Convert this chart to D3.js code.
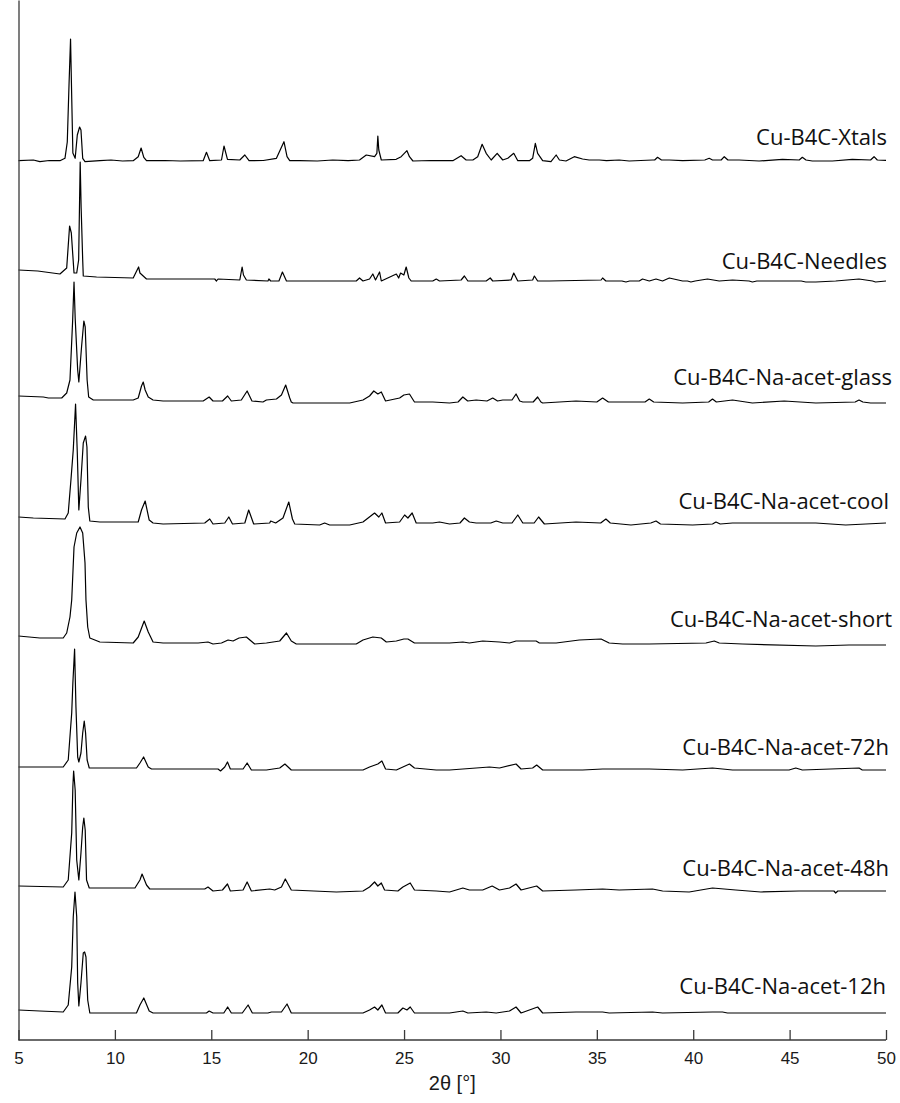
<!DOCTYPE html>
<html>
<head>
<meta charset="utf-8">
<script src="https://cdn.jsdelivr.net/npm/d3@7"></script>
<style>
  html, body { margin: 0; padding: 0; background: #fff; }
  svg { display: block; }
</style>
</head>
<body>
<svg id="chart" width="900" height="1103"></svg>
<script>
// Powder XRD patterns, stacked. Each pattern: [2theta, intensity above its own baseline].
const xtals = [[5,0.3],[5.77,1],[6.11,-0.7],[6.6,0.5],[7.15,0.3],[7.41,2.7],[7.53,19],[7.62,76],[7.7,122],[7.76,64],[7.82,8],[7.94,2.7],[8.05,26],[8.17,34],[8.24,31],[8.33,2.7],[8.45,-0.7],[9.22,0.3],[9.8,1],[10.4,0],[10.95,0.3],[11.21,4.3],[11.36,13],[11.5,3.7],[11.64,0.3],[12.6,0.5],[13.4,0],[14.58,0.3],[14.75,8.7],[14.92,0.3],[15.53,1],[15.66,15],[15.84,1.7],[16.48,1],[16.74,6],[16.96,0.3],[17.7,0.5],[18.38,2.7],[18.77,19.3],[18.93,4.3],[19.07,0.3],[19.59,0.3],[20.5,0],[21.3,1],[22.1,0.3],[22.69,1],[23.04,6],[23.47,4.3],[23.59,7.7],[23.64,25],[23.69,11],[23.82,1],[24.59,1.7],[24.85,4.3],[25.15,10.3],[25.28,4.3],[25.46,0],[26.4,0.5],[27.53,0.3],[27.96,5.3],[28.22,1],[28.57,1],[28.82,4.3],[29.05,16.7],[29.26,7.7],[29.52,1],[29.83,7.7],[30.12,1],[30.38,2.7],[30.69,7.7],[30.9,0.3],[31.5,0.3],[31.67,2.7],[31.81,17.7],[31.93,7.7],[32.19,0.3],[32.62,-0.7],[32.89,6],[33.06,1],[33.4,0],[33.83,4.3],[34.26,2],[34.6,1],[35.13,1],[35.5,0.3],[36.16,1],[36.68,0],[37.89,1],[38.0,1],[38.15,3.7],[38.35,1],[38.76,1],[39.45,0.3],[40.6,1],[40.83,2.7],[41.0,1],[41.45,1],[41.61,4.3],[41.8,1],[42.38,1],[43.42,0],[44.63,1.7],[45.5,1],[45.66,3.7],[45.85,1],[46.18,0],[47.22,0],[48.25,1.7],[49.2,1],[49.38,4.3],[49.55,1],[50,0.7]];

const needles = [[5,11],[6,10],[7.15,7],[7.5,13],[7.65,55],[7.74,48],[7.88,8],[8.02,8],[8.12,21],[8.2,119],[8.25,73],[8.33,21],[8.36,5],[9.05,4],[10.95,3],[11.23,14],[11.3,8],[11.64,2],[15.18,2],[15.27,0],[15.35,2],[16.48,1],[16.6,14],[16.67,6],[16.82,1],[17.94,0],[17.99,2],[18.08,0],[18.51,0],[18.69,9],[18.9,0],[22.52,0],[22.69,3],[22.87,0],[23.21,2],[23.38,7],[23.52,1],[23.73,9],[23.82,0],[24.6,7],[24.72,3],[24.82,8],[24.99,6],[25.11,14],[25.25,3],[25.37,0],[26.49,0],[26.67,2],[26.84,0],[27.96,1],[28.13,5],[28.31,0],[29.26,0],[29.47,3],[29.6,0],[30.55,1],[30.69,8],[30.9,0],[31.67,1],[31.76,5],[31.93,0],[32.54,0],[35.22,1],[35.3,3],[35.47,0],[36.3,0],[36.51,-1],[36.7,0],[37.2,0],[37.37,2],[37.72,0],[38.07,2],[38.41,0],[38.76,3],[39.45,0],[39.7,0],[39.88,-1],[40.1,0],[40.74,2],[41.35,0],[42.04,1],[42.9,0],[43.07,-1],[43.3,0],[44.72,0],[45.6,0],[45.84,-1],[46.36,-1],[47.39,0],[48.6,2],[49.3,0],[49.46,-1],[50,0]];

const glass = [[5,7],[6.29,6],[6.55,5],[7.24,5],[7.5,10],[7.67,23],[7.81,83],[7.88,121],[7.94,85],[8.07,33],[8.13,21],[8.27,56],[8.39,82],[8.46,76],[8.56,23],[8.64,6],[8.88,3],[10.95,3],[11.21,5],[11.38,17],[11.47,21],[11.57,13],[11.73,6],[11.98,3],[12.5,2],[14.58,2],[14.89,6],[15.09,2],[15.58,2],[15.85,7],[16.04,2],[16.56,3],[16.86,12],[17.11,2],[17.68,1],[17.86,3],[18.38,4],[18.64,8],[18.86,18],[19.07,5],[19.15,1],[19.24,0],[20.62,0],[22.18,0],[22.87,3],[23.21,7],[23.43,12],[23.64,9],[23.82,11],[24.04,2],[24.77,5],[24.99,8],[25.28,9],[25.54,1],[26.49,1],[27.36,0],[27.8,1],[28.05,6],[28.3,2],[28.74,3],[29.3,2],[29.6,5],[29.85,2],[30.12,3],[30.6,3],[30.81,9],[31.0,2],[31.16,1],[31.7,1],[31.93,6],[32.1,1],[32.19,0],[33.92,2],[35.0,1],[35.3,5],[35.6,1],[36.34,1],[37.5,1],[37.72,4],[37.95,1],[39.45,0],[40.8,1],[41,4],[41.2,1],[42.04,3],[43.07,0],[44.72,2],[46.36,0],[48.4,1],[48.6,3],[48.8,1],[49.2,0],[50,0]];

const cool = [[5,8],[5.77,7],[7.41,6],[7.58,12],[7.72,45],[7.84,75],[7.96,121],[8.05,72],[8.13,15],[8.24,45],[8.36,82],[8.48,89],[8.55,78],[8.62,18],[8.7,4],[9.22,3],[11.21,3],[11.38,15],[11.57,24],[11.78,5],[11.98,2],[12.5,1],[14.66,2],[14.92,6],[15.09,1],[15.7,2],[15.91,8],[16.1,1],[16.74,2],[16.94,15],[17.2,1],[18.03,2],[18.08,4],[18.34,2],[18.72,7],[19.02,23],[19.21,6],[19.33,1],[20.62,0],[20.88,2],[21.14,0],[22.18,0],[22.87,3],[23.47,12],[23.69,8],[23.85,12],[24.04,2],[24.77,3],[25.03,10],[25.2,7],[25.42,12],[25.63,2],[26.49,2],[26.84,3],[27.36,1],[27.9,2],[28.13,7],[28.39,3],[28.74,2],[29.5,2],[29.78,4],[30.12,2],[30.6,2],[30.9,10],[31.16,2],[31.75,2],[31.98,8],[32.28,1],[33.92,3],[35.2,2],[35.47,6],[35.7,2],[36.77,0],[37.8,2],[38.07,4],[38.3,1],[39.97,0],[41.0,1],[41.18,3],[41.4,1],[42.04,2],[46.36,2],[47.91,0],[50,2]];

const short = [[5,9],[6.11,7],[7.32,7],[7.5,12],[7.67,28],[7.76,45],[7.88,98],[8.02,112],[8.19,118],[8.33,112],[8.45,82],[8.5,45],[8.59,18],[8.7,7],[9.22,3],[10.95,2],[11.21,8],[11.52,24],[11.73,13],[11.98,3],[12.5,2],[14.32,2],[14.83,3],[15.09,1],[15.53,2],[15.87,5],[16.13,4],[16.44,7],[16.82,8],[17.25,1],[17.86,2],[18.55,4],[18.9,12],[19.15,4],[19.41,1],[22.52,1],[22.87,5],[23.38,8],[23.82,7],[24.08,3],[24.6,4],[24.99,6],[25.2,6],[25.54,2],[27.36,2],[28.05,3],[28.39,2],[29.08,4],[29.95,3],[30.47,2],[30.81,4],[31.85,4],[32.02,2],[32.89,2],[34.09,5],[35.22,6],[35.64,2],[36.34,1],[37.72,1],[40.66,2],[41.09,4],[41.35,2],[42.56,1],[46.36,-1],[48.08,0],[50,0]];

const h72 = [[5,3],[7.32,3],[7.58,10],[7.76,57],[7.82,87],[7.91,121],[7.98,63],[8.07,13],[8.13,8],[8.24,17],[8.33,37],[8.41,49],[8.48,37],[8.56,10],[8.67,2],[11.12,2],[11.3,7],[11.49,13],[11.73,3],[11.9,1],[15.35,1],[15.48,-1],[15.7,3],[15.84,8],[15.99,1],[16.65,1],[16.86,7],[17.08,0],[17.86,0],[18.55,2],[18.82,6],[19.15,0],[22.87,0],[23.21,3],[23.64,6],[23.85,9],[24.04,1],[24.6,0],[25.28,6],[25.54,2],[26.67,0],[27.36,0],[29.43,3],[29.95,2],[30.81,6],[31.07,1],[31.67,2],[31.88,5],[32.19,0],[34.26,0],[35.3,1],[37.72,1],[39.45,0],[41,2],[42.04,0],[44.97,0],[45.32,2],[45.66,0],[48.6,2],[48.77,0],[50,0]];

const h48 = [[5,5],[7.32,4],[7.58,11],[7.76,58],[7.82,104],[7.86,120],[7.94,101],[8.02,31],[8.13,11],[8.24,38],[8.33,64],[8.39,73],[8.46,61],[8.53,11],[8.67,3],[11.04,3],[11.3,11],[11.41,17],[11.64,6],[11.81,2],[14.66,2],[14.83,4],[15.09,0],[15.58,1],[15.84,7],[15.99,0],[16.65,1],[16.86,9],[17.08,0],[18.03,2],[18.29,1],[18.64,4],[18.84,12],[19.15,1],[21.49,-1],[22.87,0],[23.21,4],[23.47,9],[23.64,5],[23.82,8],[23.99,1],[24.68,0],[24.94,4],[25.32,8],[25.54,1],[26.67,0],[27.36,-1],[28.05,3],[28.39,1],[29.08,1],[29.57,5],[29.95,1],[30.47,3],[30.81,7],[31.07,1],[31.88,5],[32.19,0],[33.92,1],[35.3,2],[36.16,1],[37.89,2],[38.41,0],[39.79,-1],[41,3],[42.21,1],[43.51,-1],[45.49,0],[47.3,0],[47.39,-2],[47.5,0],[50,0]];

const h12 = [[5,3],[6.11,2],[7.32,1],[7.58,8],[7.76,46],[7.84,96],[7.93,121],[8.02,96],[8.07,30],[8.13,7],[8.24,30],[8.36,60],[8.43,61],[8.5,56],[8.59,13],[8.7,0],[11.12,0],[11.3,8],[11.5,15],[11.78,2],[11.98,0],[14.75,0],[14.89,2],[15.09,0],[15.65,0],[15.85,6],[16.04,0],[16.61,0],[16.91,8],[17.13,0],[17.94,0],[18.12,1],[18.64,1],[18.93,9],[19.15,0],[22.87,0],[23.21,3],[23.47,6],[23.64,3],[23.85,8],[24.04,0],[24.68,0],[24.94,5],[25.15,3],[25.32,6],[25.54,0],[27.36,0],[28.05,2],[28.31,0],[29.26,1],[29.78,0],[30.47,2],[30.81,6],[31.07,0],[31.93,6],[32.19,0],[33.92,1],[35.3,1],[35.64,0],[37.89,1],[38.41,0],[41,1],[41.52,1],[41.78,0],[50,0]];

const patterns = [xtals, needles, glass, cool, short, h72, h48, h12];
const sampleNames = ["Cu-B4C-Xtals", "Cu-B4C-Needles", "Cu-B4C-Na-acet-glass", "Cu-B4C-Na-acet-cool",
                     "Cu-B4C-Na-acet-short", "Cu-B4C-Na-acet-72h", "Cu-B4C-Na-acet-48h", "Cu-B4C-Na-acet-12h"];
// vertical stacking offset of each pattern (same units as intensity)
const offsets = [879, 759, 637, 515, 395, 270, 149, 27];
// label placement: baseline height above each pattern's baseline, and right edge in px
const labelLift = [16, 12, 18, 16, 18, 15, 15, 19];
const labelRight = [887, 887, 892, 889, 892, 889, 889, 886];
const xTicks = [5, 10, 15, 20, 25, 30, 35, 40, 45, 50];
const xTitle = "2\u03b8 [\u00b0]";

const svg = d3.select("#chart");
const margin = { left: 18.5, right: 14, top: 0, bottom: 63 };
const W = 900, H = 1103;

const x = d3.scaleLinear().domain([5, 50]).range([margin.left, W - margin.right]);
const y = d3.scaleLinear().domain([0, 1040]).range([H - margin.bottom, H - margin.bottom - 1040]);

// traces
const line = d3.line().x(d => x(d[0])).y(d => y(d[1]));
patterns.forEach((p, i) => {
  svg.append("path")
    .datum(p.map(d => [d[0], d[1] + offsets[i]]))
    .attr("d", line)
    .attr("fill", "none")
    .attr("stroke", "#000")
    .attr("stroke-width", 1.2)
    .attr("stroke-linejoin", "round");
});

// sample labels
svg.append("g").selectAll("text")
  .data(sampleNames)
  .join("text")
  .attr("x", (d, i) => labelRight[i])
  .attr("y", (d, i) => y(offsets[i] + labelLift[i]))
  .attr("text-anchor", "end")
  .attr("font-family", "'Open Sans', sans-serif")
  .attr("font-size", 22)
  .attr("fill", "#111")
  .text(d => d);

// bottom axis with inward ticks
const xAxis = d3.axisBottom(x).tickValues(xTicks).tickSize(-10).tickPadding(12).tickFormat(d3.format("d"));
const gx = svg.append("g")
  .attr("transform", `translate(0,${H - margin.bottom})`)
  .call(xAxis);
gx.select(".domain").attr("stroke", "#3a3a3a").attr("stroke-width", 1.3).attr("d", `M${x(5)},0H${x(50)}`);
gx.selectAll(".tick line").attr("stroke", "#3a3a3a").attr("stroke-width", 1.3);
gx.selectAll(".tick text")
  .attr("font-family", "'Liberation Sans', Arial, sans-serif")
  .attr("font-size", 17)
  .attr("fill", "#1a1a1a");

// left axis line (no ticks)
const yAxis = d3.axisLeft(y).tickValues([]).tickSizeOuter(0);
const gy = svg.append("g")
  .attr("transform", `translate(${margin.left},0)`)
  .call(yAxis);
gy.select(".domain").attr("stroke", "#3a3a3a").attr("stroke-width", 1.3);

// axis title
svg.append("text")
  .attr("x", (x(5) + x(50)) / 2)
  .attr("y", H - margin.bottom + 50)
  .attr("text-anchor", "middle")
  .attr("font-family", "'Liberation Sans', Arial, sans-serif")
  .attr("font-size", 20)
  .attr("fill", "#1a1a1a")
  .text(xTitle);
</script>
</body>
</html>
